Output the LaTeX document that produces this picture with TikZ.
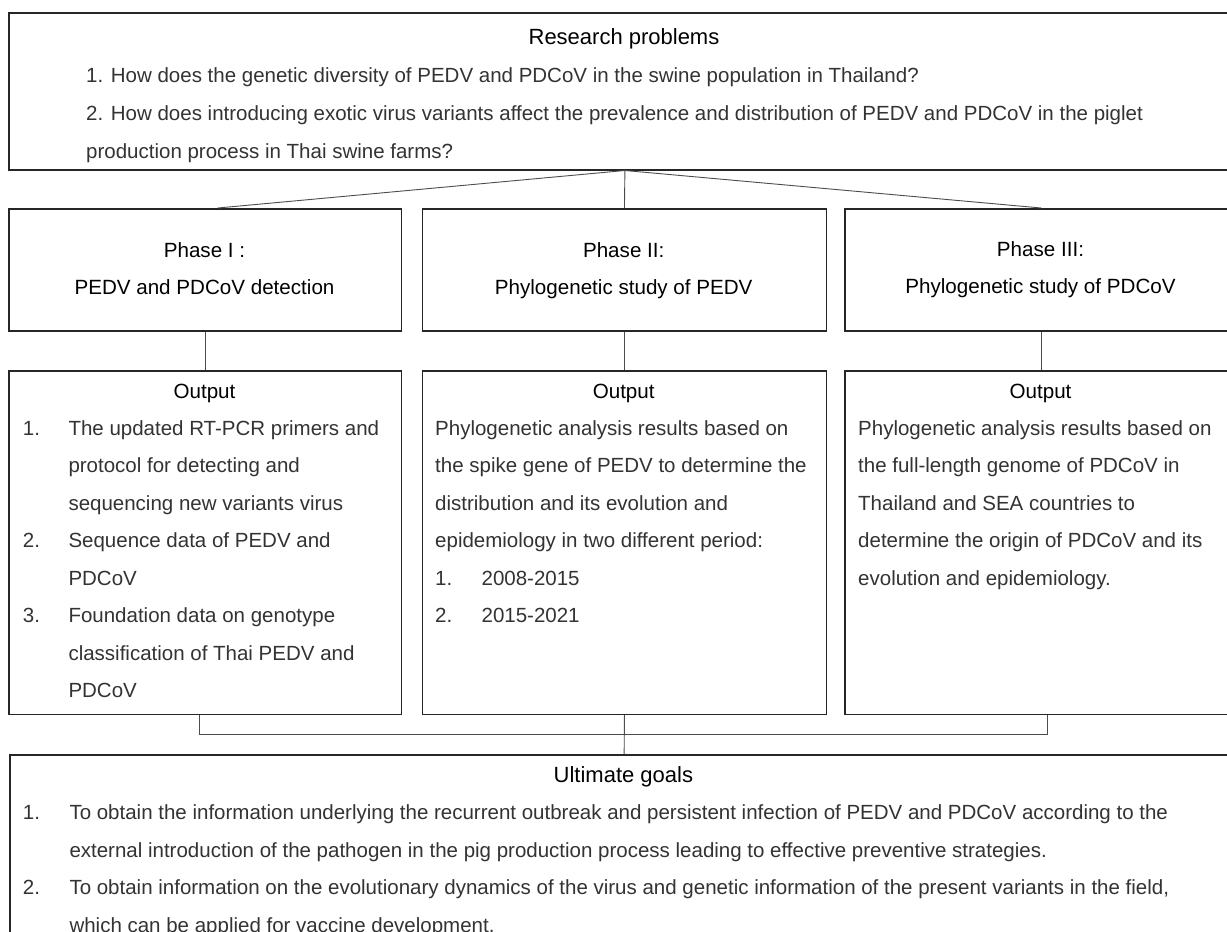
\documentclass[tikz,border=0pt]{standalone}
\usepackage{fontspec}
\setmainfont{Liberation Sans}
\begin{document}
\begin{tikzpicture}[x=1pt,y=1pt,
  box/.style={draw=black!85, line width=1.5pt, inner sep=0pt, anchor=north west},
  conn/.style={draw=black!70, line width=0.9pt},
  head/.style={font=\fontsize{22}{26}\selectfont, text=black, inner sep=0pt, anchor=base},
  ptxt/.style={font=\fontsize{20.6}{24}\selectfont, text=black, inner sep=0pt, anchor=base},
  body/.style={font=\fontsize{20.5}{24}\selectfont, text=black!80, inner sep=0pt, anchor=base west},
]
\useasboundingbox (0,0) rectangle (1227,-932);
\clip (0,0) rectangle (1227,-932);
\fill[white] (0,0) rectangle (1227,-932);

% boxes
\node[box, minimum width=1231.7pt, minimum height=156.7pt] (top) at (8.3,-12.3) {};
\node[box, minimum width=392.4pt, minimum height=122pt] (p1) at (8.3,-208) {};
\node[box, minimum width=404pt, minimum height=122pt] (p2) at (421.7,-208) {};
\node[box, minimum width=392.4pt, minimum height=122pt] (p3) at (844.3,-208) {};
\node[box, minimum width=392.4pt, minimum height=343.7pt] (o1) at (8.3,-370) {};
\node[box, minimum width=404pt, minimum height=343.7pt] (o2) at (421.7,-370) {};
\node[box, minimum width=392.4pt, minimum height=343.7pt] (o3) at (844.3,-370) {};
\node[box, minimum width=1228.2pt, minimum height=200pt] (ult) at (9.3,-754) {};

% connectors
\draw[conn] (top.south) -- ([xshift=12.5pt]p1.north);
\draw[conn] (top.south) -- (p2.north);
\draw[conn] (top.south) -- (p3.north);
\draw[conn] (p1.south) -- (o1.north);
\draw[conn] (p2.south) -- (o2.north);
\draw[conn] (p3.south) -- (o3.north);
\draw[conn] ([xshift=-5.8pt]o1.south) -- ++(0,-19) -| ([xshift=6.2pt]o3.south);
\draw[conn] (o2.south) -- (ult.north);

% research problems
\node[head] (rp) at (624,-44.5) {Research problems};
\node[body] (rp1) at (86,-82.3) {1. How does the genetic diversity of PEDV and PDCoV in the swine population in Thailand?};
\node[body] (rp2) at (86,-120.3) {2. How does introducing exotic virus variants affect the prevalence and distribution of PEDV and PDCoV in the piglet};
\node[body] (rp3) at (86,-158) {production process in Thai swine farms?};

% phases
\node[ptxt] (p1a) at (204.5,-257) {Phase I :};
\node[ptxt] (p1b) at (204.5,-294.5) {PEDV and PDCoV detection};
\node[ptxt] (p2a) at (623.7,-257) {Phase II:};
\node[ptxt] (p2b) at (623.7,-294.5) {Phylogenetic study of PEDV};
\node[ptxt] (p3a) at (1040.5,-256) {Phase III:};
\node[ptxt] (p3b) at (1040.5,-293.5) {Phylogenetic study of PDCoV};

% output titles
\node[ptxt] (o1t) at (204.5,-398) {Output};
\node[ptxt] (o2t) at (623.7,-398) {Output};
\node[ptxt] (o3t) at (1040.5,-398) {Output};

% output I
\node[body] (o1n1) at (22.7,-435) {1.};
\node[body] (o1l1) at (68.3,-435) {The updated RT-PCR primers and};
\node[body] (o1l2) at (68.3,-472.5) {protocol for detecting and};
\node[body] (o1l3) at (68.3,-510) {sequencing new variants virus};
\node[body] (o1n2) at (22.7,-547.5) {2.};
\node[body] (o1l4) at (68.3,-547.5) {Sequence data of PEDV and};
\node[body] (o1l5) at (68.3,-585) {PDCoV};
\node[body] (o1n3) at (22.7,-622.5) {3.};
\node[body] (o1l6) at (68.3,-622.5) {Foundation data on genotype};
\node[body] (o1l7) at (68.3,-660) {classification of Thai PEDV and};
\node[body] (o1l8) at (68.3,-697.5) {PDCoV};

% output II
\node[body] (o2l1) at (435,-435) {Phylogenetic analysis results based on};
\node[body] (o2l2) at (435,-472.5) {the spike gene of PEDV to determine the};
\node[body] (o2l3) at (435,-510) {distribution and its evolution and};
\node[body] (o2l4) at (435,-547.5) {epidemiology in two different period:};
\node[body] (o2n1) at (435,-585) {1.};
\node[body] (o2l5) at (481.4,-585) {2008-2015};
\node[body] (o2n2) at (435,-622.5) {2.};
\node[body] (o2l6) at (481.4,-622.5) {2015-2021};

% output III
\node[body] (o3l1) at (858,-435) {Phylogenetic analysis results based on};
\node[body] (o3l2) at (858,-472.5) {the full-length genome of PDCoV in};
\node[body] (o3l3) at (858,-510) {Thailand and SEA countries to};
\node[body] (o3l4) at (858,-547.5) {determine the origin of PDCoV and its};
\node[body] (o3l5) at (858,-585) {evolution and epidemiology.};

% ultimate goals
\node[head] (ug) at (623.4,-782.3) {Ultimate goals};
\node[body] (ugn1) at (22.7,-819.3) {1.};
\node[body] (ug1) at (69.3,-819.3) {To obtain the information underlying the recurrent outbreak and persistent infection of PEDV and PDCoV according to the};
\node[body] (ug2) at (69.3,-857) {external introduction of the pathogen in the pig production process leading to effective preventive strategies.};
\node[body] (ugn2) at (22.7,-894.5) {2.};
\node[body] (ug3) at (69.3,-894.5) {To obtain information on the evolutionary dynamics of the virus and genetic information of the present variants in the field,};
\node[body] (ug4) at (69.3,-932) {which can be applied for vaccine development.};
\end{tikzpicture}
\end{document}
